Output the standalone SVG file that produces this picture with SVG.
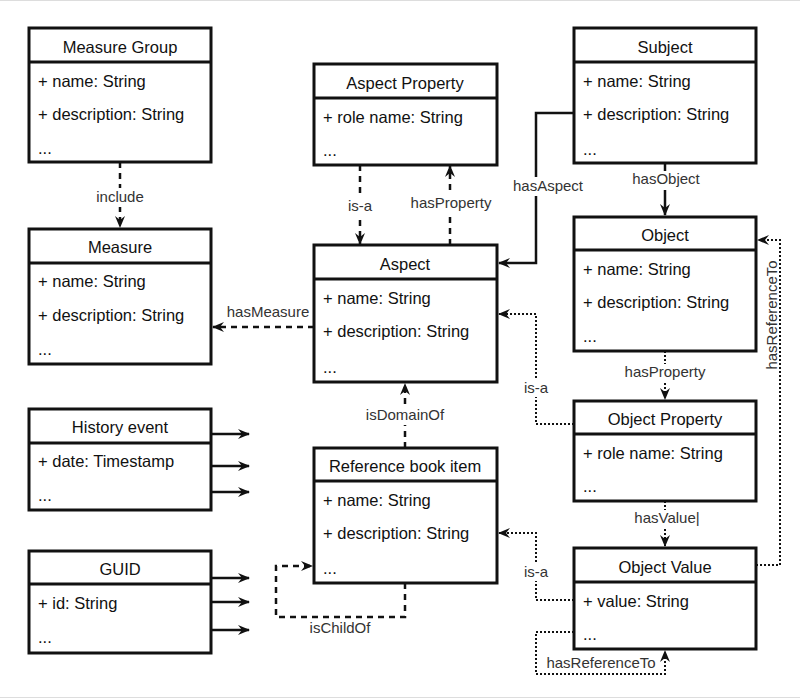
<svg xmlns="http://www.w3.org/2000/svg" width="800" height="699" viewBox="0 0 800 699">
<style>
.box{fill:#fff;stroke:#111;stroke-width:3}
.hd{stroke:#111;stroke-width:3}
.t{font-family:"Liberation Sans",Arial,sans-serif;font-size:16.5px;fill:#111}
.c{text-anchor:middle}
.lb{font-family:"Liberation Sans",Arial,sans-serif;font-size:15px;fill:#333;text-anchor:middle}
.bg{fill:#fff}
.solid{fill:none;stroke:#111;stroke-width:2.5}
.dash{fill:none;stroke:#111;stroke-width:2.5;stroke-dasharray:6 5}
.dot{fill:none;stroke:#111;stroke-width:2;stroke-dasharray:2 2}
</style>
<defs>
<marker id="ar" viewBox="0 0 12 10" refX="11" refY="5" markerWidth="12" markerHeight="10" markerUnits="userSpaceOnUse" orient="auto">
<path d="M0,0 L12,5 L0,10 L4,5 z" fill="#111"/>
</marker>
</defs>
<rect width="800" height="699" fill="#fff"/>
<line x1="0" y1="0.5" x2="800" y2="0.5" stroke="#ddd"/>
<line x1="0" y1="697.5" x2="800" y2="697.5" stroke="#ddd"/>

<g id="connectors">
<path class="dash" d="M120,162 V227" marker-end="url(#ar)"/>
<path class="dash" d="M360,165 V244" marker-end="url(#ar)"/>
<path class="dash" d="M450,245 V166" marker-end="url(#ar)"/>
<path class="solid" d="M574,113 H536 V263 H499" marker-end="url(#ar)"/>
<path class="solid" d="M665,163 V215" marker-end="url(#ar)"/>
<path class="dash" d="M314,327 H213" marker-end="url(#ar)"/>
<path class="dash" d="M405,448 V384" marker-end="url(#ar)"/>
<path class="dash" d="M405,583 V617 H276 V566 H312" marker-end="url(#ar)"/>
<path class="dot" d="M574,424 H536 V314 H499" marker-end="url(#ar)"/>
<path class="dot" d="M665,351 V399" marker-end="url(#ar)"/>
<path class="dot" d="M665,501 V546" marker-end="url(#ar)"/>
<path class="dot" d="M756,565 H780 V240 H758" marker-end="url(#ar)"/>
<path class="dot" d="M574,600 H536 V533 H499" marker-end="url(#ar)"/>
<path class="dot" d="M574,632 H536 V674 H665 V651" marker-end="url(#ar)"/>
<path class="solid" d="M211,434 H249" marker-end="url(#ar)"/>
<path class="solid" d="M211,466 H249" marker-end="url(#ar)"/>
<path class="solid" d="M211,492 H249" marker-end="url(#ar)"/>
<path class="solid" d="M211,578 H249" marker-end="url(#ar)"/>
<path class="solid" d="M211,602 H249" marker-end="url(#ar)"/>
<path class="solid" d="M211,630 H249" marker-end="url(#ar)"/>
<rect class="bg" x="94" y="188" width="52" height="19"/>
<rect class="bg" x="347" y="198" width="26" height="18"/>
<rect class="bg" x="409" y="194" width="84" height="19"/>
<rect class="bg" x="512" y="177" width="72" height="19"/>
<rect class="bg" x="631" y="171" width="70" height="19"/>
<rect class="bg" x="366" y="406" width="78" height="19"/>
<rect class="bg" x="523" y="380" width="26" height="17"/>
<rect class="bg" x="624" y="364" width="82" height="19"/>
<rect class="bg" x="633" y="510" width="68" height="18"/>
<rect class="bg" x="523" y="564" width="26" height="17"/>
<text class="lb" x="120" y="202">include</text>
<text class="lb" x="360" y="211">is-a</text>
<text class="lb" x="451" y="208">hasProperty</text>
<text class="lb" x="548" y="191">hasAspect</text>
<text class="lb" x="666" y="184">hasObject</text>
<text class="lb" x="268" y="317">hasMeasure</text>
<text class="lb" x="405" y="420">isDomainOf</text>
<text class="lb" x="340" y="633">isChildOf</text>
<text class="lb" x="536" y="393">is-a</text>
<text class="lb" x="665" y="377">hasProperty</text>
<text class="lb" x="667" y="523">hasValue|</text>
<text class="lb" x="536" y="577">is-a</text>
<text class="lb" x="601" y="668">hasReferenceTo</text>
<text class="lb" transform="translate(777,315) rotate(-90)">hasReferenceTo</text>
</g>

<g id="measure-group">
<rect class="box" x="29" y="28" width="182" height="134"/>
<line class="hd" x1="29" y1="62" x2="211" y2="62"/>
<text class="t c" x="120" y="53">Measure Group</text>
<text class="t" x="38" y="87">+ name: String</text>
<text class="t" x="38" y="120">+ description: String</text>
<text class="t" x="38" y="154">...</text>
</g>

<g id="measure">
<rect class="box" x="29" y="229" width="182" height="135"/>
<line class="hd" x1="29" y1="263" x2="211" y2="263"/>
<text class="t c" x="120" y="253">Measure</text>
<text class="t" x="38" y="287">+ name: String</text>
<text class="t" x="38" y="321">+ description: String</text>
<text class="t" x="38" y="355">...</text>
</g>

<g id="aspect-property">
<rect class="box" x="314" y="64" width="183" height="101"/>
<line class="hd" x1="314" y1="98" x2="497" y2="98"/>
<text class="t c" x="405" y="89">Aspect Property</text>
<text class="t" x="323" y="123">+ role name: String</text>
<text class="t" x="323" y="156">...</text>
</g>

<g id="subject">
<rect class="box" x="574" y="28" width="182" height="135"/>
<line class="hd" x1="574" y1="62" x2="756" y2="62"/>
<text class="t c" x="665" y="53">Subject</text>
<text class="t" x="583" y="87">+ name: String</text>
<text class="t" x="583" y="120">+ description: String</text>
<text class="t" x="583" y="155">...</text>
</g>

<g id="aspect">
<rect class="box" x="314" y="245" width="183" height="137"/>
<line class="hd" x1="314" y1="279" x2="497" y2="279"/>
<text class="t c" x="405" y="270">Aspect</text>
<text class="t" x="323" y="304">+ name: String</text>
<text class="t" x="323" y="337">+ description: String</text>
<text class="t" x="323" y="373">...</text>
</g>

<g id="object">
<rect class="box" x="574" y="217" width="182" height="134"/>
<line class="hd" x1="574" y1="250" x2="756" y2="250"/>
<text class="t c" x="665" y="241">Object</text>
<text class="t" x="583" y="275">+ name: String</text>
<text class="t" x="583" y="308">+ description: String</text>
<text class="t" x="583" y="342">...</text>
</g>

<g id="object-property">
<rect class="box" x="574" y="401" width="182" height="100"/>
<line class="hd" x1="574" y1="434" x2="756" y2="434"/>
<text class="t c" x="665" y="425">Object Property</text>
<text class="t" x="583" y="459">+ role name: String</text>
<text class="t" x="583" y="492">...</text>
</g>

<g id="object-value">
<rect class="box" x="574" y="548" width="182" height="101"/>
<line class="hd" x1="574" y1="582" x2="756" y2="582"/>
<text class="t c" x="665" y="573">Object Value</text>
<text class="t" x="583" y="607">+ value: String</text>
<text class="t" x="583" y="640">...</text>
</g>

<g id="reference-book-item">
<rect class="box" x="314" y="448" width="183" height="135"/>
<line class="hd" x1="314" y1="481" x2="497" y2="481"/>
<text class="t c" x="405" y="472">Reference book item</text>
<text class="t" x="323" y="506">+ name: String</text>
<text class="t" x="323" y="539">+ description: String</text>
<text class="t" x="323" y="574">...</text>
</g>

<g id="history-event">
<rect class="box" x="29" y="409" width="182" height="101"/>
<line class="hd" x1="29" y1="443" x2="211" y2="443"/>
<text class="t c" x="120" y="433">History event</text>
<text class="t" x="38" y="467">+ date: Timestamp</text>
<text class="t" x="38" y="501">...</text>
</g>

<g id="guid">
<rect class="box" x="29" y="551" width="182" height="102"/>
<line class="hd" x1="29" y1="584" x2="211" y2="584"/>
<text class="t c" x="120" y="575">GUID</text>
<text class="t" x="38" y="609">+ id: String</text>
<text class="t" x="38" y="643">...</text>
</g>
</svg>
